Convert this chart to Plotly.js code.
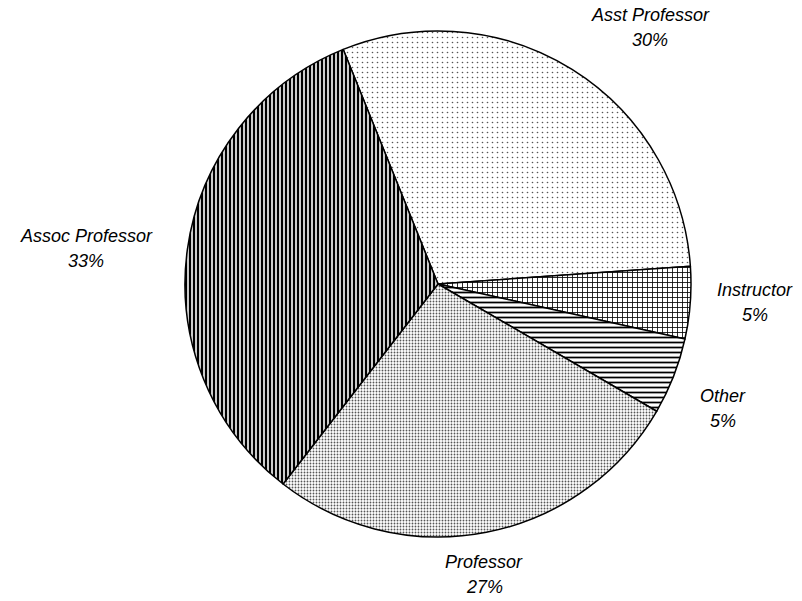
<!DOCTYPE html>
<html>
<head>
<meta charset="utf-8">
<script src="https://cdn.plot.ly/plotly-3.0.1.min.js"></script>
<style>html,body{margin:0;padding:0;background:#fff;}#chart{width:802px;height:601px;}</style>
</head>
<body>
<div id="chart"></div>
<script>
// Data
const labels = ["Asst Professor", "Instructor", "Other", "Professor", "Assoc Professor"];
const values = [30.0, 4.6, 4.9, 27.1, 33.4];

// Label anchor points (px in the 802x601 canvas)
const W = 802, H = 601;
const labelPos = [[650, 27], [755, 302], [723, 408], [484, 574], [86, 248]];

const total = values.reduce((a, b) => a + b, 0);
const pct = values.map(v => Math.round(v / total * 100) + "%");

const font = {family: "Liberation Sans, Arial, sans-serif", size: 18, style: "italic", color: "#000"};
const annotations = [];
labels.forEach((lab, i) => {
  const x = labelPos[i][0] / W, y = 1 - labelPos[i][1] / H;
  annotations.push({xref: "paper", yref: "paper", x: x, y: y, text: lab, showarrow: false,
    xanchor: "center", yanchor: "middle", yshift: 12, font: font});
  annotations.push({xref: "paper", yref: "paper", x: x, y: y, text: pct[i], showarrow: false,
    xanchor: "center", yanchor: "middle", yshift: -13, font: font});
});

const trace = {
  type: "pie",
  labels: labels,
  values: values,
  sort: false,
  direction: "clockwise",
  rotation: -22,
  textinfo: "none",
  hoverinfo: "label+percent",
  showlegend: false,
  domain: {x: [185 / W, 691 / W], y: [1 - 537 / H, 1 - 31 / H]},
  marker: {
    colors: ["#ffffff", "#ffffff", "#ffffff", "#ffffff", "#ffffff"],
    line: {color: "#000", width: 1.5},
    pattern: {
      shape: [".", "+", "-", ".", "|"],
      size: [5, 5, 5, 3, 4],
      solidity: [0.08, 0.3, 0.35, 0.3, 0.6],
      fgcolor: ["#555", "#000", "#000", "#555", "#000"],
      bgcolor: ["#fff", "#fff", "#fff", "#fff", "#fff"]
    }
  }
};

const layout = {
  width: W, height: H,
  margin: {l: 0, r: 0, t: 0, b: 0},
  paper_bgcolor: "#fff",
  plot_bgcolor: "#fff",
  showlegend: false,
  annotations: annotations
};

Plotly.newPlot("chart", [trace], layout, {displayModeBar: false, staticPlot: true});
</script>
</body>
</html>
